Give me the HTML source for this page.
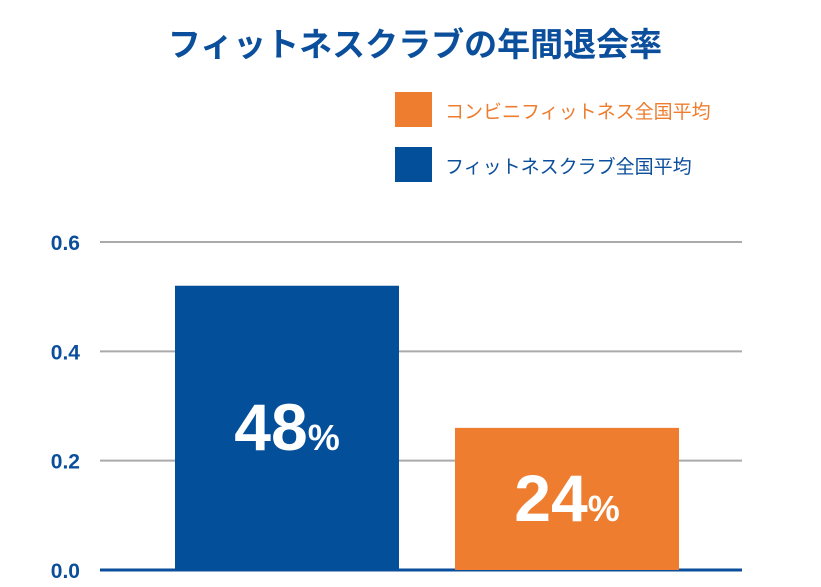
<!DOCTYPE html>
<html><head><meta charset="utf-8"><style>
body{margin:0;background:#fff;width:821px;height:582px;overflow:hidden;font-family:"Liberation Sans","Noto Sans CJK JP",sans-serif}
</style></head><body>
<svg width="821" height="582" font-family="Liberation Sans, Noto Sans CJK JP, sans-serif">
<text x="415" y="56" text-anchor="middle" font-size="33" font-weight="bold" fill="#0b4f9c">フィットネスクラブの年間退会率</text>
<g>
<rect x="395" y="92" width="37" height="35" fill="#ee7d30"/>
<text x="445" y="118" font-size="19" fill="#ee7d30">コンビニフィットネス全国平均</text>
<rect x="395" y="147" width="37" height="35" fill="#034f9a"/>
<text x="445" y="173" font-size="19" fill="#0b4f9c">フィットネスクラブ全国平均</text>
</g>
<g id="grid"></g><g id="bars"></g>
</svg>
<script>
const categories=["フィットネスクラブ全国平均","コンビニフィットネス全国平均"];
const values=[0.52,0.26];
const valueLabels=["48","24"];
const ticks=[0,0.2,0.4,0.6];
const tickLabels=["0.0","0.2","0.4","0.6"];
const colors=["#034f9a","#ee7d30"];
const NS="http://www.w3.org/2000/svg";
const y0=570,y1=242;
function yScale(v){return y0-(v/0.6)*(y0-y1);}
function xScale(i){return 175+i*280;}
const bw=224;
const grid=document.getElementById('grid'),bars=document.getElementById('bars');
ticks.forEach((t,i)=>{
 const l=document.createElementNS(NS,'line');
 
 
 l.setAttribute('x1',100);l.setAttribute('x2',742);
 l.setAttribute('y1',yScale(t));l.setAttribute('y2',yScale(t));
 l.setAttribute('stroke',t===0?'#0b4f9c':'#aaaaaa');l.setAttribute('stroke-width',t===0?3:2);
 grid.appendChild(l);
 const tx=document.createElementNS(NS,'text');
 
 
 tx.setAttribute('x',80);tx.setAttribute('y',yScale(t)+8);tx.setAttribute('text-anchor','end');
 tx.setAttribute('font-size','21');tx.setAttribute('font-weight','bold');tx.setAttribute('fill','#0b4f9c');
 tx.textContent=tickLabels[i];grid.appendChild(tx);
});
values.forEach((v,i)=>{
 const r=document.createElementNS(NS,'rect');
 
 
 r.setAttribute('x',xScale(i));r.setAttribute('y',yScale(v));r.setAttribute('width',bw);r.setAttribute('height',y0-yScale(v));
 r.setAttribute('fill',colors[i]);bars.appendChild(r);
 const tx=document.createElementNS(NS,'text');
 
 
 tx.setAttribute('x',xScale(i)+bw/2);tx.setAttribute('y',(yScale(v)+y0)/2+22);tx.setAttribute('text-anchor','middle');
 tx.setAttribute('fill','#fff');tx.setAttribute('font-weight','bold');
 tx.innerHTML='<tspan font-size="66">'+valueLabels[i]+'</tspan><tspan font-size="36">%</tspan>';
 bars.appendChild(tx);
});
</script>
</body></html>
